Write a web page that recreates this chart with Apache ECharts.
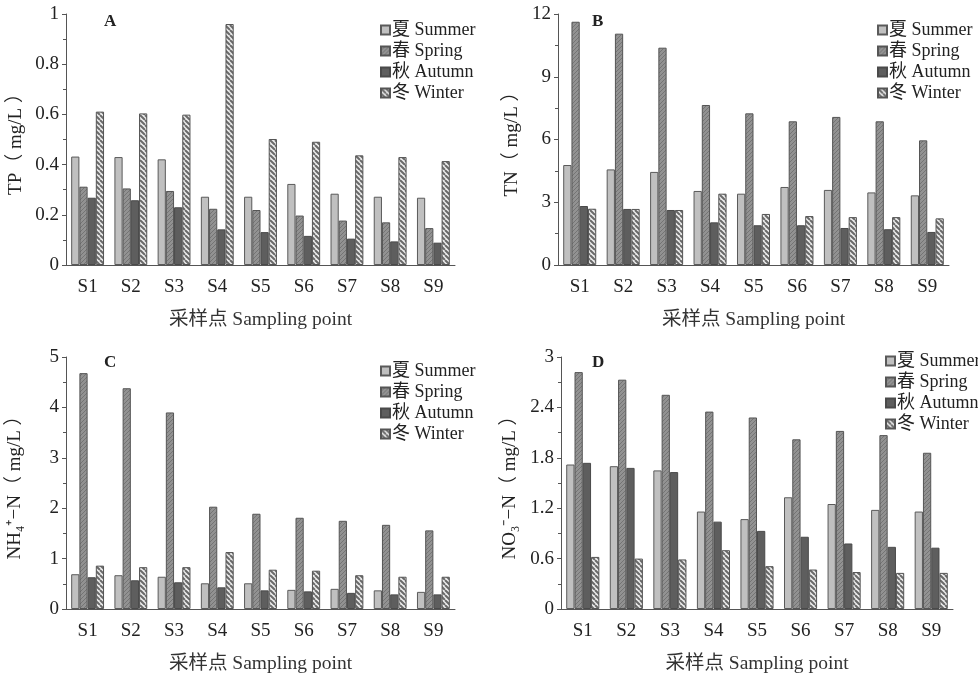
<!DOCTYPE html>
<html><head><meta charset="utf-8">
<script src="https://cdn.jsdelivr.net/npm/echarts@6/dist/echarts.min.js"></script>
<style>html,body{margin:0;padding:0;background:#fff}#c{width:978px;height:678px}</style>
</head><body><div id="c"></div>
<script>
const categories = ['S1','S2','S3','S4','S5','S6','S7','S8','S9'];
const seasons = ['夏 Summer','春 Spring','秋 Autumn','冬 Winter'];
// Panel A: TP
const tpSummer = [0.432,0.430,0.421,0.272,0.272,0.323,0.284,0.272,0.268];
const tpSpring = [0.312,0.305,0.295,0.224,0.219,0.197,0.177,0.170,0.147];
const tpAutumn = [0.268,0.258,0.230,0.142,0.131,0.116,0.105,0.094,0.089];
const tpWinter = [0.611,0.604,0.599,0.960,0.502,0.491,0.437,0.430,0.414];
// Panel B: TN
const tnSummer = [4.78,4.57,4.45,3.54,3.41,3.73,3.59,3.47,3.33];
const tnSpring = [11.63,11.06,10.39,7.65,7.25,6.87,7.08,6.87,5.96];
const tnAutumn = [2.82,2.68,2.63,2.04,1.90,1.90,1.77,1.71,1.58];
const tnWinter = [2.69,2.68,2.63,3.41,2.44,2.34,2.29,2.29,2.23];
// Panel C: NH4+-N
const nhSummer = [0.69,0.67,0.64,0.51,0.51,0.38,0.40,0.37,0.34];
const nhSpring = [4.68,4.38,3.90,2.03,1.89,1.81,1.75,1.67,1.56];
const nhAutumn = [0.63,0.57,0.53,0.43,0.37,0.35,0.32,0.29,0.29];
const nhWinter = [0.86,0.83,0.83,1.13,0.78,0.76,0.67,0.64,0.64];
// Panel D: NO3--N
const noSummer = [1.72,1.70,1.65,1.16,1.07,1.33,1.25,1.18,1.16];
const noSpring = [2.82,2.73,2.55,2.35,2.28,2.02,2.12,2.07,1.86];
const noAutumn = [1.74,1.68,1.63,1.04,0.93,0.86,0.78,0.74,0.73];
const noWinter = [0.62,0.60,0.59,0.70,0.51,0.47,0.44,0.43,0.43];

const yNames = ['TP（ mg/L ）','TN（ mg/L ）','NH₄⁺−N（ mg/L ）','NO₃⁻−N（ mg/L ）'];
const yMax = [1, 12, 5, 3];
const yInterval = [0.2, 3, 1, 0.6];
const panelLetters = ['A','B','C','D'];
const panelData = [
  [tpSummer,tpSpring,tpAutumn,tpWinter],
  [tnSummer,tnSpring,tnAutumn,tnWinter],
  [nhSummer,nhSpring,nhAutumn,nhWinter],
  [noSummer,noSpring,noAutumn,noWinter]
];

function stripe(bg, fg, dir, step, lw){
  const c = document.createElement('canvas');
  c.width = step; c.height = step;
  const g = c.getContext('2d');
  g.fillStyle = bg; g.fillRect(0,0,step,step);
  g.strokeStyle = fg; g.lineWidth = lw;
  g.beginPath();
  for (let k=-1;k<=1;k++){
    if (dir === '/') { g.moveTo(k*step, step); g.lineTo(k*step+step, 0); }
    else { g.moveTo(k*step, 0); g.lineTo(k*step+step, step); }
  }
  g.stroke();
  return {image: c, repeat: 'repeat'};
}
const fills = [
  '#c0c0c0',
  stripe('#929292','#747474','/',4,1),
  '#5e5e5e',
  stripe('#ececec','#6a6a6a','\\',5,2)
];
const borders = ['#5a5a5a','#555','#4a4a4a','#555'];

const serif = '"Liberation Serif","Noto Sans CJK SC",serif';
const grids = [
  {left:66, top:14, width:389, height:251},
  {left:558, top:14, width:391, height:251},
  {left:66, top:357, width:389, height:252},
  {left:561, top:357, width:392, height:252}
];
const legendPos = [
  {left:375, top:16},{left:872, top:16},{left:375, top:357},{left:880, top:347}
];
const letterPos = [
  {left:99, top:8},{left:587, top:8},{left:99, top:349},{left:587, top:349}
];

const option = {
  animation:false,
  textStyle:{fontFamily:serif},
  grid: grids,
  title: panelLetters.map((t,i)=>({text:t, left:letterPos[i].left, top:letterPos[i].top,
    textStyle:{fontFamily:serif, fontSize:17, fontWeight:'bold', color:'#222'}})),
  legend: legendPos.map(p=>({data:seasons, orient:'vertical', left:p.left, top:p.top,
    itemWidth:9, itemHeight:9, itemGap:3, icon:'rect',
    textStyle:{fontFamily:serif, fontSize:18, color:'#222', padding:[0,0,0,-3]}})),
  xAxis: grids.map((g,i)=>({type:'category', gridIndex:i, data:categories,
    name:'采样点 Sampling point', nameLocation:'middle', nameGap:45,
    nameTextStyle:{fontFamily:serif, fontSize:19.5, color:'#333'},
    axisLine:{lineStyle:{color:'#555', width:1}},
    axisTick:{alignWithLabel:true, length:4, lineStyle:{color:'#555'}},
    axisLabel:{fontFamily:serif, fontSize:19, color:'#222', margin:13}})),
  yAxis: grids.map((g,i)=>({type:'value', gridIndex:i, min:0, max:yMax[i], interval:yInterval[i],
    name:yNames[i], nameLocation:'middle', nameGap:i===1?36:i===0?40:41, nameRotate:90,
    nameTextStyle:{fontFamily:serif, fontSize:19, color:'#222'},
    splitLine:{show:false},
    axisLine:{show:true, lineStyle:{color:'#555', width:1}},
    axisTick:{show:true, length:4, lineStyle:{color:'#555'}},
    minorTick:{show:true, splitNumber:2, length:3, lineStyle:{color:'#555'}},
    axisLabel:{fontFamily:serif, fontSize:19, color:'#222', margin:7}})),
  series: []
};
panelData.forEach((arrs,p)=>{
  arrs.forEach((vals,s)=>{
    option.series.push({type:'bar', name:seasons[s], xAxisIndex:p, yAxisIndex:p,
      data:vals, barGap:'0%', barCategoryGap:'24%',
      itemStyle:{color:fills[s], borderColor:borders[s], borderWidth:1}});
  });
});
const chart = echarts.init(document.getElementById('c'));
chart.setOption(option);
</script></body></html>
